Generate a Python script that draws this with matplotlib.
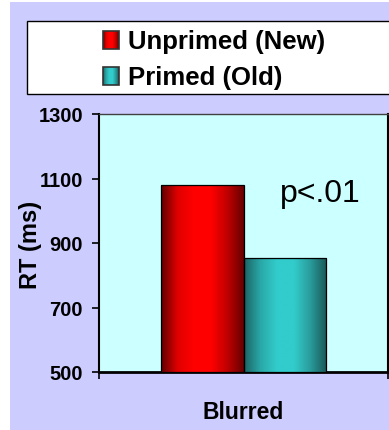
import numpy as np
import matplotlib
matplotlib.use("Agg")
import matplotlib.pyplot as plt
from matplotlib.patches import Rectangle
from matplotlib.colors import LinearSegmentedColormap

plt.rcParams['font.family'] = ['Liberation Sans', 'DejaVu Sans']

# --- data ---
conditions = ["Blurred"]
series_names = ["Unprimed (New)", "Primed (Old)"]
rt_values = [1080, 853]
y_ticks = [500, 700, 900, 1100, 1300]
annotation = "p<.01"

# --- styling ---
W, H, DPI = 389, 431, 100
page_bg = "#CCCCFF"
plot_bg = "#CCFFFF"
shades = [
    ["#5e0000", "#e00000", "#ff0000", "#ff0000", "#c00000", "#660000"],
    ["#1d6464", "#2aa8a8", "#33cccc", "#33cccc", "#2a9c9c", "#1a5656"],
]
bar_width = 0.287

fig = plt.figure(figsize=(W / DPI, H / DPI), dpi=DPI, facecolor="white")
fig.patches.append(Rectangle((10 / W, 0), 1, 1 - 3 / H, transform=fig.transFigure,
                             facecolor=page_bg, edgecolor="none", zorder=-5))

ax = fig.add_axes([99 / W, 1 - 373 / H, (388 - 99) / W, (373 - 115) / H])
ax.set_facecolor(plot_bg)
ax.set_xlim(-0.5, 0.5)
ax.set_ylim(y_ticks[0], y_ticks[-1])


def shade_patch(axis, patch, stops):
    cmap = LinearSegmentedColormap.from_list("shade", stops)
    grad = np.linspace(0, 1, 256).reshape(1, -1)
    x0, y0 = patch.get_x(), patch.get_y()
    img = axis.imshow(grad, cmap=cmap, aspect="auto", interpolation="bilinear",
                      extent=(x0, x0 + patch.get_width(), y0, y0 + patch.get_height()),
                      zorder=patch.get_zorder() - 0.1)
    img.set_clip_path(patch)


offsets = [-bar_width / 2, bar_width / 2]
for i, (name, val) in enumerate(zip(series_names, rt_values)):
    bars = ax.bar(offsets[i], val - y_ticks[0], bottom=y_ticks[0], width=bar_width,
                  color="none", edgecolor="black", linewidth=0.9, zorder=3, label=name)
    for b in bars:
        shade_patch(ax, b, shades[i])

ax.set_xlim(-0.5, 0.5)
ax.set_ylim(y_ticks[0], y_ticks[-1])

ax.set_yticks(y_ticks)
ax.set_yticklabels([str(t) for t in y_ticks], fontsize=14.5, fontweight="bold")
ax.tick_params(axis="y", direction="out", length=5, width=1.2, pad=6.5, colors="black")

ax.set_xticks([0])
ax.set_xticklabels(conditions, fontsize=16.5, fontweight="bold")
ax.tick_params(axis="x", which="major", length=0, pad=20)
ax.set_xticks([-0.5, 0.5], minor=True)
ax.tick_params(axis="x", which="minor", direction="out", length=5, width=1.2)

ax.set_ylabel("RT (ms)", fontsize=17, fontweight="bold")
ax.yaxis.set_label_coords((42 - 99) / 289, 0.496)

for side, (col, lw) in {"left": ("black", 1.5), "bottom": ("black", 2.0),
                        "top": ("#404040", 1.0), "right": ("black", 1.5)}.items():
    ax.spines[side].set_color(col)
    ax.spines[side].set_linewidth(lw)

ax.text(0.126, 1030, annotation, fontsize=23, ha="left", va="baseline", zorder=5)

# --- legend box, drawn in pixel coordinates ---
lg = fig.add_axes([0, 0, 1, 1], zorder=10)
lg.set_xlim(0, W)
lg.set_ylim(H, 0)
lg.axis("off")
lg.add_patch(Rectangle((27, 22), 400, 73, facecolor="white", edgecolor="black", linewidth=1.0))
rows_y = [41, 77]
for i, name in enumerate(series_names):
    box = Rectangle((103, rows_y[i] - 9), 16, 18, facecolor="none", edgecolor="#333333",
                    linewidth=1.2, zorder=3)
    lg.add_patch(box)
    shade_patch(lg, box, shades[i])
    lg.text(128, rows_y[i] + 1, name, fontsize=18.5, fontweight="bold",
            ha="left", va="center")
lg.set_xlim(0, W)
lg.set_ylim(H, 0)

fig.savefig("out.png", dpi=DPI, facecolor=fig.get_facecolor())
